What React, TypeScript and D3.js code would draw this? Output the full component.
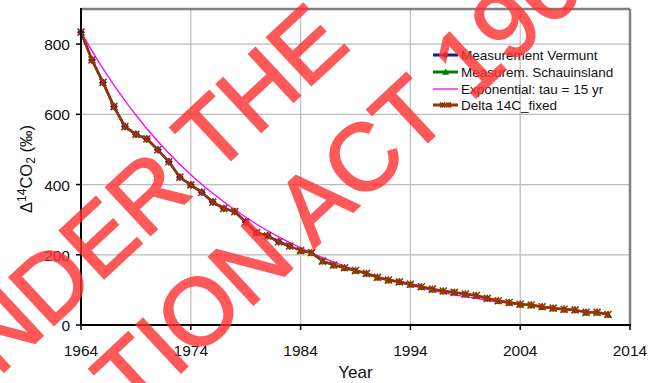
import React from "react";
import * as d3 from "d3";

const vermuntYears = [1964,1965,1966,1967,1968,1969,1970,1971,1972,1973,1974,1975,1976,1977,1978,1979,1980,1981,1982,1983];
const vermuntValues = [834,755,691,622,565,543,530,499,465,421,399,378,350,332,323,293,263,254,237,225];

const schauYears = [1984,1985,1986,1987,1988,1989,1990,1991,1992,1993,1994,1995,1996,1997,1998,1999,2000,2001,2002,2003,2004,2005,2006,2007,2008,2009,2010,2011,2012];
const schauValues = [212,206,182,171,163,155,147,136,128,123,116,109,102,97,93,88,84,76,69,64,59,57,52,48,45,43,36,36,30];

const fixedYears = [...vermuntYears, ...schauYears];
const fixedValues = [...vermuntValues, ...schauValues];

const expYears = [1964,1966,1968,1970,1972,1974,1976,1978,1980,1982,1984,1986,1988,1990,1992,1994,1996,1998,2000,2002,2004,2006,2008,2010,2012];
const expValues = [834,730,639,559,489,428,375,328,287,251,220,192,168,147,129,113,99,86,76,66,58,51,44,39,34];

const xTicks = [1964,1974,1984,1994,2004,2014];
const yTicks = [0,200,400,600,800];

const legendLabels = ["Measurement Vermunt","Measurem. Schauinsland","Exponential: tau = 15 yr","Delta 14C_fixed"];

const W = 660, H = 383;
const L = 81, R = 630, T = 9, B = 325;
const FONT = "'Liberation Sans', Arial, Helvetica, sans-serif";

const NAVY = "#1a1a8c";
const GREEN = "#008000";
const MAGENTA = "#ff00ff";
const BROWN = "#993300";

function Diamond({ x, y, s = 4 }: { x: number; y: number; s?: number }) {
  return <path d={`M${x},${y - s}L${x + s},${y}L${x},${y + s}L${x - s},${y}Z`} fill={NAVY} />;
}
function Tri({ x, y, s = 4 }: { x: number; y: number; s?: number }) {
  return <path d={`M${x},${y - s}L${x + s},${y + s * 0.8}L${x - s},${y + s * 0.8}Z`} fill={GREEN} />;
}
function Star({ x, y, s = 3.5 }: { x: number; y: number; s?: number }) {
  return (
    <path
      d={`M${x - s},${y - s}L${x + s},${y + s}M${x - s},${y + s}L${x + s},${y - s}M${x},${y - s}L${x},${y + s}`}
      stroke={BROWN}
      strokeWidth={1.6}
      fill="none"
    />
  );
}

export default function App() {
  const x = d3.scaleLinear().domain([1964, 2014]).range([L, R]);
  const y = d3.scaleLinear().domain([0, 900]).range([B, T]);

  const line = d3
    .line<[number, number]>()
    .x((d) => x(d[0]))
    .y((d) => y(d[1]));
  const smooth = d3
    .line<[number, number]>()
    .x((d) => x(d[0]))
    .y((d) => y(d[1]))
    .curve(d3.curveMonotoneX);

  const vPts = vermuntYears.map((yr, i) => [yr, vermuntValues[i]] as [number, number]);
  const sPts = schauYears.map((yr, i) => [yr, schauValues[i]] as [number, number]);
  const fPts = fixedYears.map((yr, i) => [yr, fixedValues[i]] as [number, number]);
  const ePts = expYears.map((yr, i) => [yr, expValues[i]] as [number, number]);

  const legY = [55, 72, 89, 105];
  const lx0 = 433, lx1 = 458;

  return (
    <svg
      width={W}
      height={H}
      style={{ position: "absolute", left: 0, top: 0, background: "#fff" }}
      fontFamily={FONT}
    >
      <rect x={0} y={0} width={W} height={H} fill="#fff" />
      {/* grid */}
      {yTicks.filter((t) => t > 0).map((t) => (
        <line key={"gy" + t} x1={L} x2={R} y1={y(t)} y2={y(t)} stroke="#bcbcbc" strokeWidth={1.2} />
      ))}
      {xTicks.filter((t) => t > 1964 && t < 2014).map((t) => (
        <line key={"gx" + t} x1={x(t)} x2={x(t)} y1={T} y2={B} stroke="#bcbcbc" strokeWidth={1.2} />
      ))}
      {/* plot border top/right */}
      <line x1={L} x2={R} y1={T} y2={T} stroke="#808080" strokeWidth={2.5} />
      <line x1={R} x2={R} y1={T} y2={B} stroke="#808080" strokeWidth={2.5} />

      {/* series */}
      <path d={line(vPts) || ""} fill="none" stroke={NAVY} strokeWidth={2.5} />
      <path d={line(sPts) || ""} fill="none" stroke={GREEN} strokeWidth={2.5} />
      {vPts.map((p, i) => (
        <Diamond key={"v" + i} x={x(p[0])} y={y(p[1])} />
      ))}
      {sPts.map((p, i) => (
        <Tri key={"s" + i} x={x(p[0])} y={y(p[1])} />
      ))}
      <path d={smooth(ePts) || ""} fill="none" stroke={MAGENTA} strokeWidth={1.3} />
      <path d={line(fPts) || ""} fill="none" stroke={BROWN} strokeWidth={2.4} />
      {fPts.map((p, i) => (
        <Star key={"f" + i} x={x(p[0])} y={y(p[1])} />
      ))}

      {/* axes */}
      <line x1={L} x2={L} y1={T - 1} y2={B} stroke="#000" strokeWidth={2} />
      <line x1={L} x2={R + 1} y1={B} y2={B} stroke="#000" strokeWidth={2} />
      {yTicks.map((t) => (
        <g key={"ty" + t}>
          <line x1={L - 5} x2={L} y1={y(t)} y2={y(t)} stroke="#000" strokeWidth={1.5} />
          <text x={70} y={y(t) + 6} textAnchor="end" fontSize={15.5} fill="#111">
            {t}
          </text>
        </g>
      ))}
      {xTicks.map((t) => (
        <g key={"tx" + t}>
          <line x1={x(t)} x2={x(t)} y1={B} y2={B + 5} stroke="#000" strokeWidth={1.5} />
          <text x={x(t)} y={356} textAnchor="middle" fontSize={15.5} fill="#111">
            {t}
          </text>
        </g>
      ))}
      <text x={355.5} y={378} textAnchor="middle" fontSize={17} fill="#111">
        Year
      </text>
      <text transform="translate(32,169) rotate(-90)" textAnchor="middle" fontSize={16.5} fill="#111">
        <tspan>Δ</tspan>
        <tspan fontSize={12} dy={-6}>14</tspan>
        <tspan dy={6}>CO</tspan>
        <tspan fontSize={12} dy={3}>2</tspan>
        <tspan dy={-3}> (‰)</tspan>
      </text>

      {/* legend */}
      <line x1={lx0} x2={lx1} y1={legY[0]} y2={legY[0]} stroke={NAVY} strokeWidth={3} />
      <Diamond x={(lx0 + lx1) / 2} y={legY[0]} s={3.5} />
      <line x1={lx0} x2={lx1} y1={legY[1]} y2={legY[1]} stroke={GREEN} strokeWidth={3} />
      <Tri x={(lx0 + lx1) / 2} y={legY[1]} s={3.5} />
      <line x1={lx0} x2={lx1} y1={legY[2]} y2={legY[2]} stroke={MAGENTA} strokeWidth={1.3} />
      <line x1={lx0} x2={lx1} y1={legY[3]} y2={legY[3]} stroke={BROWN} strokeWidth={3} />
      <Star x={(lx0 + lx1) / 2 - 3} y={legY[3]} s={2.5} />
      <Star x={(lx0 + lx1) / 2 + 3} y={legY[3]} s={2.5} />
      {legendLabels.map((lab, i) => (
        <text key={lab} x={461} y={legY[i] + 5} fontSize={13.5} fill="#111">
          {lab}
        </text>
      ))}

      {/* watermark */}
      <g opacity={0.8} fill="#ff3030" stroke="#ff3030" strokeWidth={2} fontSize={95} fontFamily={FONT}>
        <text transform="translate(-52,424) rotate(-43)">UNDER THE</text>
        <text transform="translate(132,418) rotate(-43)">TION ACT 1968</text>
      </g>
    </svg>
  );
}
